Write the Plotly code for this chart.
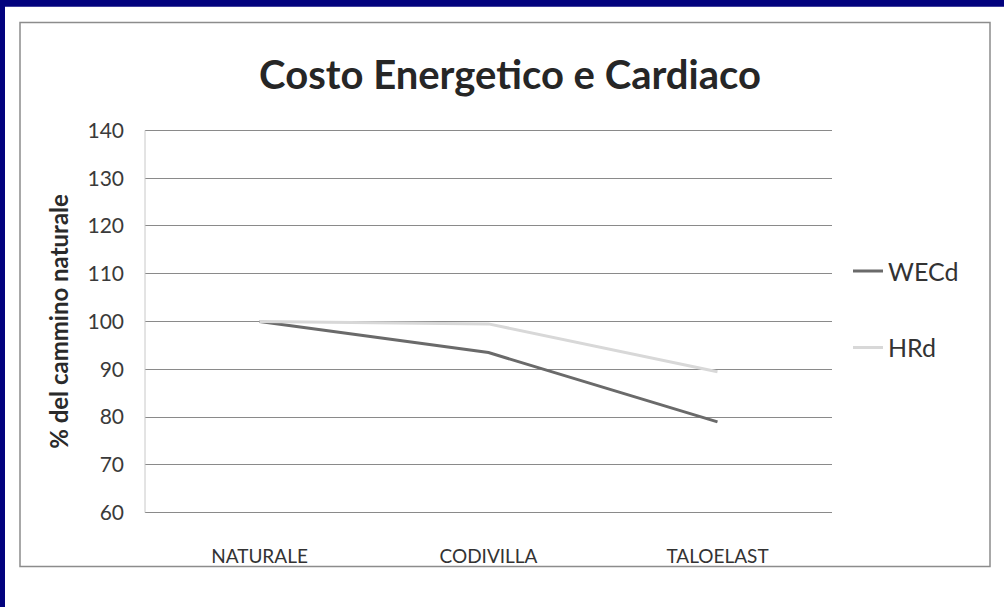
import plotly.graph_objects as go

categories = ["NATURALE", "CODIVILLA", "TALOELAST"]
wecd = [100, 93.5, 79]
hrd = [100, 99.5, 89.5]
y_ticks = [60, 70, 80, 90, 100, 110, 120, 130, 140]

W, H = 1004, 607
unit = (513 - 130) / 80.0
L, R = 145, 832
T, B = 130 - 0.5 * unit, 513 + 0.5 * unit
pw, ph = R - L, B - T

def px(x):
    return (x - L) / pw

def py(y):
    return (B - y) / ph

fig = go.Figure()
fig.add_trace(go.Scatter(x=categories, y=wecd, mode="lines", name="WECd",
                         line=dict(color="#6a6a6a", width=3), legendgroup="a"))
fig.add_trace(go.Scatter(x=categories, y=hrd, mode="lines", name="HRd",
                         line=dict(color="#d8d8d8", width=3), legendgroup="b"))

shapes = [
    dict(type="rect", xref="paper", yref="paper", layer="below",
         x0=px(5), x1=px(W + 5), y0=py(6), y1=py(H + 5),
         fillcolor="white", line=dict(width=0)),
    dict(type="rect", xref="paper", yref="paper", layer="below",
         x0=px(20), x1=px(990), y0=py(22), y1=py(567),
         fillcolor="rgba(0,0,0,0)", line=dict(color="#8c8c8c", width=1.5)),
]

fig.update_layout(
    width=W, height=H,
    margin=dict(l=L, r=W - R, t=T, b=H - B),
    paper_bgcolor="#02027e",
    plot_bgcolor="rgba(0,0,0,0)",
    shapes=shapes,
    title=dict(text="<b>Costo Energetico e Cardiaco</b>", x=px(510), xanchor="center",
               xref="paper", y=1 - 75 / H, yref="container", yanchor="middle",
               font=dict(family="Lato", size=40, color="#262626")),
    font=dict(family="Lato", color="#3a3a3a"),
    xaxis=dict(type="category", range=[-0.5, 2.5], showgrid=False, zeroline=False,
               showline=False, ticks="", ticklabelstandoff=28,
               tickfont=dict(size=19, color="#333333")),
    yaxis=dict(range=[59.5, 140.5], tickvals=y_ticks, showgrid=True, gridcolor="#8a8a8a",
               gridwidth=1, zeroline=False, showline=False,
               ticks="", ticklabelstandoff=20,
               tickfont=dict(size=21, color="#3a3a3a"),
               title=dict(text="<b>% del cammino naturale</b>", standoff=12,
                          font=dict(size=24, color="#2a2a2a"))),
    legend=dict(x=px(848), xanchor="left", y=py(248), yanchor="top",
                bgcolor="rgba(0,0,0,0)", tracegroupgap=41,
                font=dict(size=25, color="#333333")),
)

# left axis line spanning 60..140
fig.add_shape(type="line", xref="paper", yref="y", x0=0, x1=0, y0=60, y1=140,
              line=dict(color="#c8c8c8", width=1))

fig.write_html("out.html", config={"displayModeBar": False},
               post_script="document.body.style.margin='0';document.body.style.background='#02027e';")
